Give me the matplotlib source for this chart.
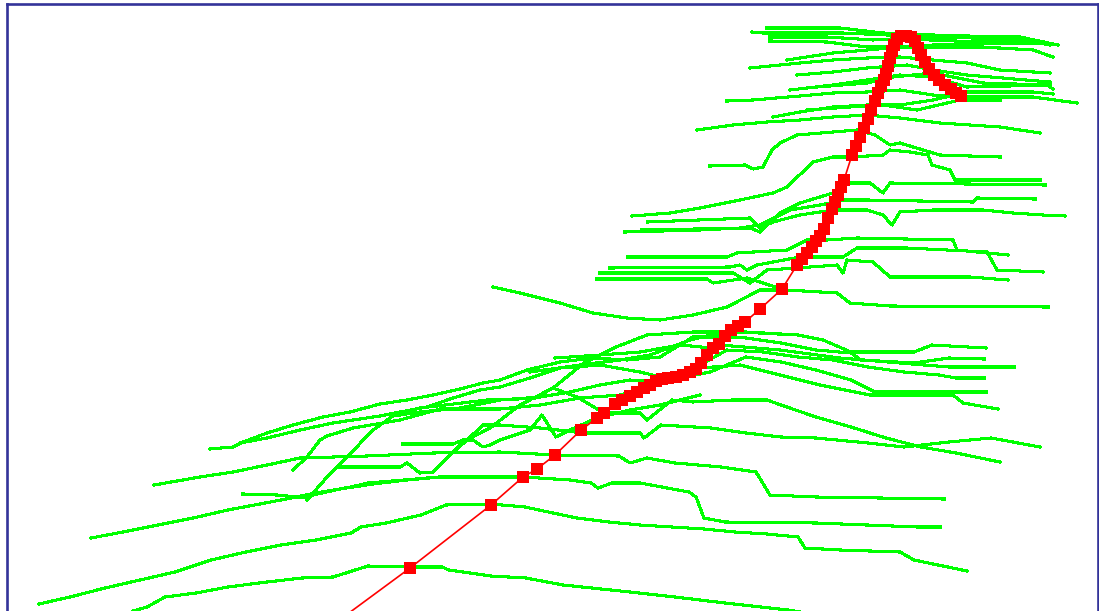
import matplotlib
matplotlib.use("Agg")
import matplotlib.pyplot as plt

# red path (square markers), x / y in chart units (y grows downward)
red_x = [334, 410, 491, 523, 537, 555, 581, 597, 604, 615, 622, 630, 637, 644, 650, 656,
         662, 668, 676, 683, 690, 696, 701, 707, 713, 719, 725, 731, 738, 745, 760, 782,
         797, 802, 807, 812, 816, 820, 824, 828, 832, 835, 838, 841, 844, 852, 856, 860,
         864, 868, 871, 875, 878, 881, 884, 886, 888, 890, 892, 894, 897, 901, 906, 911,
         915, 918, 921, 925, 929, 934, 939, 945, 951, 956, 961]
red_y = [624, 568, 505, 477, 469, 455, 430, 418, 413, 404, 400, 396, 392, 388, 385, 381,
         379, 378, 377, 375, 372, 369, 363, 355, 348, 344, 336, 330, 326, 322, 309, 289,
         265, 259, 253, 247, 241, 236, 229, 218, 209, 202, 195, 187, 180, 155, 146, 137,
         128, 119, 110, 101, 93, 86, 80, 74, 66, 58, 51, 45, 39, 36, 36, 37,
         41, 48, 55, 62, 69, 75, 80, 85, 89, 93, 96]

# green profile lines, grouped by region
bottom_lines = [
    [(133, 611), (147, 607), (165, 597), (196, 593), (228, 587), (267, 582), (302, 578), (333, 577),
     (368, 566), (407, 567), (442, 567), (449, 570), (491, 576), (526, 578), (563, 585), (630, 592),
     (675, 597), (725, 603), (788, 610), (800, 612)],
    [(39, 604), (70, 597), (105, 588), (140, 580), (175, 572), (211, 560), (246, 552), (281, 545),
     (316, 540), (351, 533), (361, 527), (386, 523), (421, 515), (446, 505), (491, 504), (525, 507),
     (553, 513), (577, 518), (609, 522), (640, 525), (672, 527), (704, 529), (735, 532), (767, 534),
     (798, 537), (805, 548), (840, 550), (900, 552), (914, 560), (967, 571)],
    [(91, 538), (123, 532), (158, 525), (193, 518), (228, 510), (281, 500), (316, 493), (351, 487),
     (368, 483), (404, 480), (439, 477), (523, 477), (570, 480), (591, 483), (598, 488), (612, 483),
     (640, 483), (689, 492), (696, 497), (704, 518), (725, 522), (816, 523), (918, 527), (940, 527)],
    [(154, 485), (200, 477), (233, 472), (267, 465), (300, 458), (367, 456), (433, 453), (500, 452),
     (555, 455), (619, 456), (630, 463), (647, 458), (675, 463), (721, 467), (756, 472), (770, 495),
     (816, 497), (944, 499)],
    [(243, 494), (277, 495), (307, 498), (313, 495), (340, 489), (373, 484), (407, 480), (440, 477)],
    [(340, 467), (400, 467), (407, 463), (420, 473), (433, 472), (447, 458), (467, 440), (483, 425),
     (500, 425), (540, 428), (584, 433), (640, 433), (644, 438), (661, 425), (711, 428), (746, 433),
     (781, 437), (816, 438), (868, 443), (904, 447), (949, 442), (991, 438), (1040, 447)],
    [(420, 408), (487, 400), (500, 400), (535, 398), (553, 388), (577, 397), (604, 413), (640, 413),
     (647, 420), (672, 400), (693, 402), (732, 400), (767, 400), (781, 405), (816, 417), (851, 427),
     (886, 438), (921, 447), (956, 453), (1000, 462)],
]

cluster_lines = [
    [(210, 449), (233, 447), (243, 442), (267, 433), (293, 425), (323, 417), (350, 412), (380, 404),
     (407, 400), (433, 395), (460, 389), (483, 383), (500, 380), (527, 370), (560, 362), (593, 358),
     (627, 360), (660, 357), (693, 337), (725, 337), (746, 338), (781, 343), (816, 350), (851, 353),
     (861, 360), (914, 363), (949, 358), (984, 359)],
    [(240, 443), (267, 438), (300, 430), (333, 423), (353, 420), (380, 416), (400, 412), (427, 407),
     (453, 398), (480, 390), (500, 387), (530, 378), (560, 368), (600, 365), (640, 372), (665, 378),
     (700, 365), (727, 350), (763, 352), (798, 357), (833, 360), (868, 367), (904, 372), (939, 375),
     (956, 378), (984, 378)],
    [(293, 470), (307, 457), (320, 440), (327, 436), (353, 428), (400, 420), (440, 409), (500, 409),
     (540, 405), (580, 398), (620, 395), (648, 387), (680, 378), (710, 372), (746, 357), (781, 362),
     (816, 370), (851, 380), (875, 392), (953, 392), (986, 392)],
    [(307, 500), (327, 477), (347, 457), (373, 430), (393, 416), (420, 412), (460, 408), (500, 400),
     (540, 397), (570, 392), (600, 385), (630, 380), (658, 382), (700, 368), (740, 365), (780, 375),
     (820, 385), (870, 395), (953, 395), (963, 403), (998, 409)],
    [(555, 358), (600, 355), (640, 352), (680, 345), (712, 348), (720, 345), (780, 350), (840, 358),
     (900, 363), (949, 367), (1014, 367)],
    [(530, 372), (580, 365), (620, 360), (650, 355), (690, 340), (727, 331), (746, 332), (798, 335),
     (823, 340), (851, 352), (914, 352), (932, 345), (986, 348)],
    [(403, 444), (453, 444), (463, 440), (473, 440), (483, 447), (490, 445), (500, 440), (530, 430),
     (542, 415), (556, 437), (570, 430), (597, 418), (630, 410), (660, 405), (700, 395)],
    [(435, 470), (463, 442), (490, 428), (520, 405), (553, 388), (584, 363), (616, 347), (647, 335),
     (693, 332), (740, 332), (798, 335)],
]

middle_lines = [
    [(493, 287), (520, 293), (560, 303), (593, 313), (627, 318), (660, 320), (693, 315), (727, 307),
     (760, 290), (787, 290), (837, 293), (850, 303), (890, 306), (1048, 307)],
    [(628, 257), (727, 257), (737, 253), (787, 250), (807, 240), (827, 240), (857, 238), (953, 240),
     (957, 250), (1008, 255)],
    [(610, 268), (730, 267), (740, 265), (747, 270), (757, 265), (800, 257), (843, 257), (857, 248),
     (907, 248), (987, 252), (997, 270), (1043, 272)],
    [(600, 273), (733, 273), (750, 283), (767, 270), (797, 268), (837, 265), (843, 273), (847, 260),
     (873, 262), (890, 277), (970, 277), (1008, 280)],
    [(597, 279), (707, 279), (713, 283), (747, 278), (782, 289)],
]

upper_lines = [
    [(632, 216), (670, 213), (700, 208), (740, 200), (773, 193), (787, 187), (813, 162), (833, 157),
     (852, 157), (883, 155), (890, 150), (910, 152), (928, 155), (932, 165), (950, 170), (955, 180),
     (1040, 180)],
    [(648, 222), (750, 218), (760, 228), (773, 222), (800, 215), (833, 210), (867, 210), (883, 215),
     (892, 225), (900, 212), (933, 210), (983, 210), (1013, 213), (1043, 215), (1065, 216)],
    [(642, 230), (750, 228), (760, 232), (780, 213), (800, 203), (833, 193), (847, 183), (870, 183),
     (883, 193), (890, 183), (1045, 185)],
    [(625, 232), (700, 230), (740, 228), (760, 225), (790, 210), (820, 205), (845, 200), (867, 200),
     (973, 202), (977, 198), (1035, 199)],
    [(710, 166), (745, 165), (753, 169), (763, 167), (772, 150), (780, 143), (797, 135), (833, 132),
     (857, 130), (875, 135), (890, 145), (900, 143), (913, 147), (940, 155), (1000, 157)],
    [(697, 130), (733, 125), (767, 122), (800, 120), (833, 117), (867, 115), (900, 118), (940, 123),
     (1000, 127), (1040, 133)],
    [(727, 101), (753, 100), (800, 96), (833, 93), (867, 92), (900, 90), (933, 95), (967, 97),
     (1033, 97), (1077, 103)],
]

top_lines = [
    [(767, 28), (840, 28), (883, 33), (933, 35), (967, 36), (1020, 37), (1058, 45)],
    [(752, 32), (763, 33), (843, 33), (887, 35), (930, 40), (980, 42), (1040, 42)],
    [(770, 37), (827, 37), (873, 40), (927, 37), (973, 38), (1027, 39), (1050, 45)],
    [(770, 41), (827, 42), (867, 47), (933, 47), (1000, 48), (1033, 50), (1053, 57)],
    [(787, 60), (800, 58), (833, 53), (867, 50), (900, 47), (933, 45), (973, 45), (993, 43), (1047, 44)],
    [(750, 68), (800, 63), (833, 60), (867, 58), (900, 57), (933, 60), (967, 63), (1000, 70), (1050, 73)],
    [(797, 75), (833, 72), (867, 68), (907, 65), (933, 70), (967, 75), (1050, 82)],
    [(790, 90), (833, 85), (867, 80), (900, 75), (933, 77), (967, 87), (1050, 85)],
    [(817, 87), (867, 83), (893, 77), (933, 73), (983, 83), (1047, 85), (1053, 89)],
    [(773, 117), (800, 112), (833, 107), (867, 105), (900, 105), (933, 100), (967, 92), (1033, 92),
     (1053, 94)],
    [(807, 110), (850, 107), (883, 105), (917, 110), (960, 100), (1000, 100)],
]

W, H = 1099, 611
fig = plt.figure(figsize=(W / 100, H / 100), dpi=100)
fig.patch.set_facecolor("white")

# frame: left edge at px 7, top at px 4, right at px 1098, bottom cut off
bottom_px = 640
ax = fig.add_axes([7 / W, (H - bottom_px) / H, (1098 - 7) / W, (bottom_px - 4) / H])
ax.set_xlim(7, 1098)
ax.set_ylim(bottom_px, 4)
ax.set_xticks([])
ax.set_yticks([])
for side in ["left", "top", "right"]:
    ax.spines[side].set_color("#333399")
    ax.spines[side].set_linewidth(1.9)
ax.spines["bottom"].set_visible(False)

for group in [bottom_lines, cluster_lines, middle_lines, upper_lines, top_lines]:
    for line in group:
        xs = [p[0] for p in line]
        ys = [p[1] for p in line]
        ax.plot(xs, ys, color="#00ff00", lw=1.5, antialiased=False, zorder=2)

ax.plot(red_x, red_y, color="#ff0000", lw=1.2, marker="s", markersize=9,
        markeredgewidth=0, zorder=3)

fig.savefig("out.png", dpi=100)
